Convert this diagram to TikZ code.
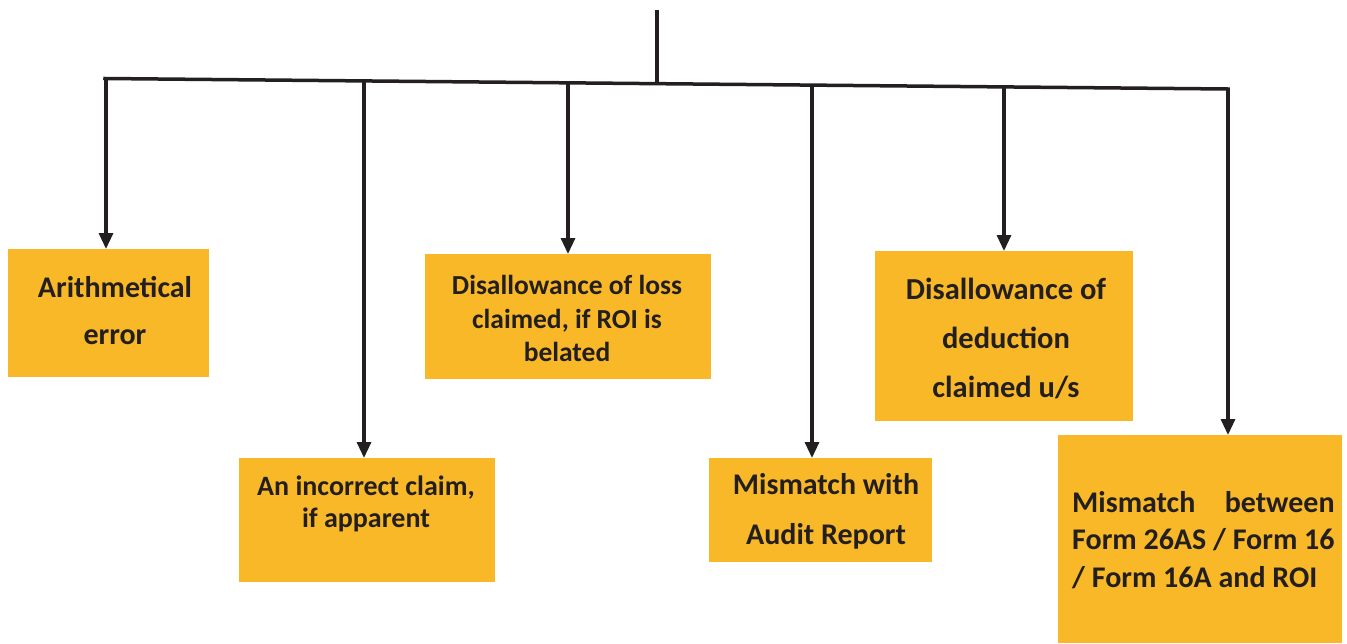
\documentclass[tikz,border=0pt]{standalone}
\usepackage{fontspec}
\setmainfont{Carlito}
\usetikzlibrary{arrows.meta}
\definecolor{boxorange}{HTML}{F8B827}
\definecolor{linegray}{HTML}{231F20}
\begin{document}
\begin{tikzpicture}[x=1pt,y=-1pt,
  bar/.style={draw=linegray,line width=3.5pt},
  arr/.style={draw=linegray,line width=3.2pt,-{Triangle[width=14pt,length=16pt]}},
  box/.style={fill=boxorange,draw=none,inner sep=0pt,anchor=north west},
  lbl/.style={font=\bfseries,text=linegray,align=center,inner sep=0pt}]
\useasboundingbox (0,0) rectangle (1347,643);
% bar
\coordinate (T) at (657,10);
\coordinate (L) at (105,78.5);
\coordinate (R) at (1228,89);
\coordinate (J) at (657,83);
\coordinate (c1) at (106,78.5);
\coordinate (c2) at (364,81);
\coordinate (c3) at (568,83);
\coordinate (c4) at (812,85);
\coordinate (c5) at (1004,87);
\coordinate (c6) at (1228,89);
\draw[bar] (T) -- (J);
\draw[bar,line cap=rect] (L) -- (R);
% boxes
\node[box,minimum width=201pt,minimum height=128pt] (b1) at (8,249) {};
\node[box,minimum width=256pt,minimum height=124pt] (b2) at (239,458) {};
\node[box,minimum width=286pt,minimum height=125pt] (b3) at (425,254) {};
\node[box,minimum width=223pt,minimum height=104pt] (b4) at (709,458) {};
\node[box,minimum width=258pt,minimum height=170pt] (b5) at (875,251) {};
\node[box,minimum width=284pt,minimum height=208pt] (b6) at (1058,435) {};
% texts
\node[lbl,font=\fontsize{30}{47}\selectfont\bfseries] (t1) at (115,310.5) {Arithmetical\\error};
\node[lbl,font=\fontsize{28}{32}\selectfont\bfseries] (t2) at (366,504) {An incorrect claim,\\if apparent};
\node[lbl,font=\fontsize{27.5}{33.5}\selectfont\bfseries] (t3) at (567,318.5) {Disallowance of loss\\claimed, if ROI is\\belated};
\node[lbl,font=\fontsize{30}{50}\selectfont\bfseries] (t4) at (826,511) {Mismatch with\\Audit Report};
\node[lbl,font=\fontsize{30.5}{49}\selectfont\bfseries] (t5) at (1006,338) {Disallowance of\\deduction\\claimed u/s};
\node[lbl,font=\fontsize{30}{37.5}\selectfont\bfseries,align=left,anchor=west] (t6) at (1072,540)
  {\setbox0\hbox{Form 26AS / Form 16}\parbox{\wd0}{\fontsize{30}{37.5}\selectfont\bfseries Mismatch\hfill between\\Form 26AS / Form 16\\/ Form 16A and ROI}};
% arrows
\draw[arr] (c1) -- (c1 |- b1.north);
\draw[arr] (c2) -- (c2 |- b2.north);
\draw[arr] (c3) -- (c3 |- b3.north);
\draw[arr] (c4) -- (c4 |- b4.north);
\draw[arr] (c5) -- (c5 |- b5.north);
\draw[arr] (c6) -- (c6 |- b6.north);
\end{tikzpicture}
\end{document}
